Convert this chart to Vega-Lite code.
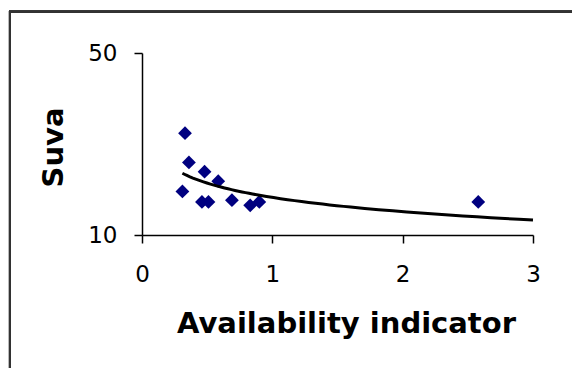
{
  "$schema": "https://vega.github.io/schema/vega-lite/v6.json",
  "autosize": {"type": "none"},
  "width": 391,
  "height": 182,
  "padding": {"left": 142, "top": 53, "right": 39, "bottom": 133},
  "background": "white",
  "config": {
    "view": {"stroke": null},
    "axis": {
      "grid": false,
      "domainColor": "#000000",
      "domainWidth": 1.5,
      "tickColor": "#000000",
      "tickWidth": 1.5,
      "tickSize": 8,
      "labelFlush": false,
      "labelOverlap": false,
      "labelFont": "DejaVu Sans",
      "labelFontSize": 23,
      "labelColor": "#000000",
      "titleFont": "DejaVu Sans",
      "titleFontWeight": "bold",
      "titleFontSize": 29,
      "titleColor": "#000000"
    }
  },
  "data": {
    "values": [
      {"ai": 0.33, "suva": 24.6},
      {"ai": 0.36, "suva": 19.0},
      {"ai": 0.48, "suva": 17.5},
      {"ai": 0.585, "suva": 16.1},
      {"ai": 0.31, "suva": 14.7},
      {"ai": 0.46, "suva": 13.4},
      {"ai": 0.51, "suva": 13.4},
      {"ai": 0.69, "suva": 13.6},
      {"ai": 0.83, "suva": 13.0},
      {"ai": 0.90, "suva": 13.4},
      {"ai": 2.58, "suva": 13.4}
    ]
  },
  "layer": [
    {
      "mark": {"type": "rect", "fill": null, "stroke": "#333333", "strokeWidth": 2, "clip": false},
      "encoding": {
        "x": {"datum": -1.013, "type": "quantitative"},
        "x2": {"datum": 3.6},
        "y": {"datum": 72, "type": "quantitative"},
        "y2": {"datum": 2}
      }
    },
    {
      "mark": {"type": "point", "shape": "diamond", "filled": true, "color": "#000080", "size": 190, "opacity": 1},
      "encoding": {
        "x": {
          "field": "ai", "type": "quantitative",
          "scale": {"domain": [0, 3], "nice": false, "zero": false},
          "axis": {
            "values": [0, 1, 2, 3],
            "format": "d",
            "title": "Availability indicator",
            "labelBaseline": "alphabetic",
            "labelPadding": 38,
            "titleBaseline": "alphabetic",
            "titleX": 204,
            "titleY": 97,
            "titleAnchor": "middle"
          }
        },
        "y": {
          "field": "suva", "type": "quantitative",
          "scale": {"type": "log", "domain": [10, 50], "nice": false, "zero": false},
          "axis": {
            "values": [10, 50],
            "format": "d",
            "title": "Suva",
            "labelPadding": 17,
            "labelBaseline": "middle",
            "titleBaseline": "alphabetic",
            "titleAngle": -90,
            "titleAlign": "center",
            "titleX": -80,
            "titleY": 94
          }
        }
      }
    },
    {
      "transform": [
        {"regression": "suva", "on": "ai", "method": "pow", "extent": [0.31, 3]}
      ],
      "mark": {"type": "line", "color": "#000000", "strokeWidth": 3},
      "encoding": {
        "x": {"field": "ai", "type": "quantitative"},
        "y": {"field": "suva", "type": "quantitative"}
      }
    }
  ]
}
